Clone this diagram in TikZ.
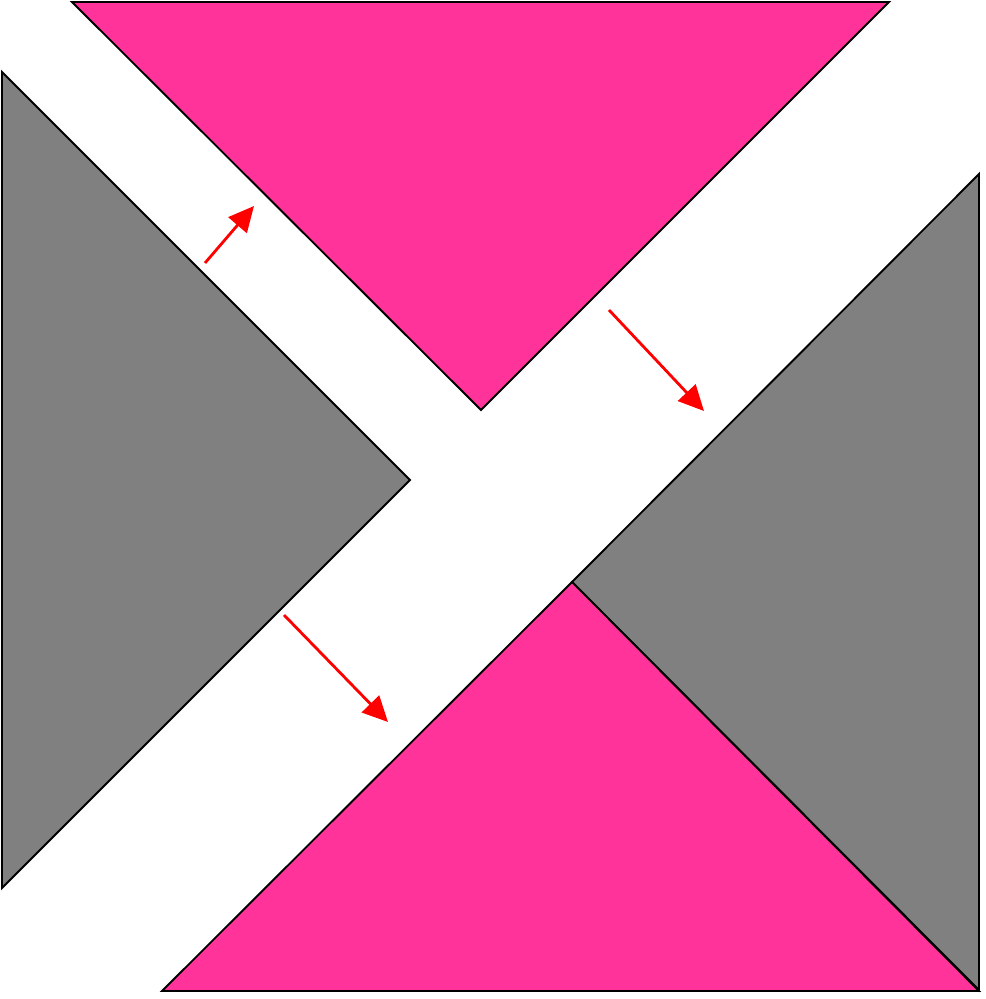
\documentclass[tikz,border=0pt]{standalone}
\usetikzlibrary{arrows.meta}
\definecolor{pinkc}{HTML}{FF3399}
\definecolor{grayc}{HTML}{808080}
\begin{document}
\begin{tikzpicture}[x=0.75pt,y=-0.75pt,
  tri/.style={draw=black,line width=1.4pt,line join=miter},
  redarrow/.style={draw=red,line width=2.1pt,-{Triangle[length=19pt,width=18pt]}}]
\useasboundingbox (0,0) rectangle (985,999);
% triangles
\filldraw[pinkc,tri] (72,2) -- (889,2) -- (481,410) -- cycle;
\filldraw[grayc,tri] (2,72) -- (410,480) -- (2,888) -- cycle;
\filldraw[grayc,tri] (979,174) -- (979,990) -- (572,582) -- cycle;
\filldraw[pinkc,tri] (572,582) -- (979,991) -- (162,991) -- cycle;
% arrows
\coordinate (a1) at (205,263); \coordinate (b1) at (254,206);
\coordinate (a2) at (609,310); \coordinate (b2) at (704,411);
\coordinate (a3) at (284,615); \coordinate (b3) at (388,722);
\draw[redarrow] (a1) -- (b1);
\draw[redarrow] (a2) -- (b2);
\draw[redarrow] (a3) -- (b3);
\end{tikzpicture}
\end{document}
